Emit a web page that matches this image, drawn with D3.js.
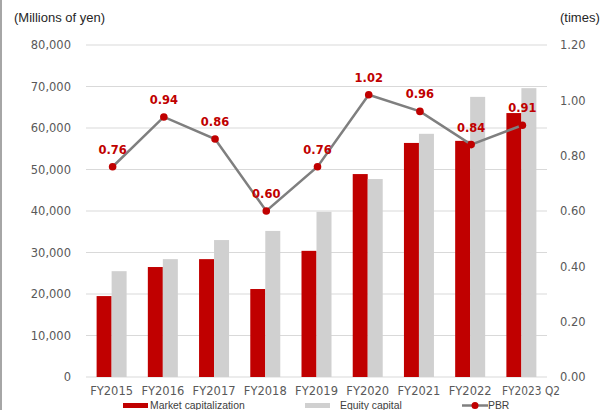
<!DOCTYPE html>
<html><head><meta charset="utf-8">
<script src="https://cdn.jsdelivr.net/npm/d3@7"></script>
<style>
html,body{margin:0;padding:0;background:#fff;}
svg{display:block;}
</style></head>
<body><svg id="c" width="601" height="410"></svg>
<script>
const categories = ["FY2015","FY2016","FY2017","FY2018","FY2019","FY2020","FY2021","FY2022","FY2023 Q2"];
const marketCap = [19500, 26500, 28400, 21200, 30400, 48900, 56400, 56900, 63600];
const equityCap = [25500, 28400, 33000, 35200, 39800, 47700, 58600, 67500, 69600];
const pbr = [0.76, 0.94, 0.86, 0.60, 0.76, 1.02, 0.96, 0.84, 0.91];
const leftTicks = [0,10000,20000,30000,40000,50000,60000,70000,80000];
const rightTicks = [0,0.2,0.4,0.6,0.8,1.0,1.2];

const svg = d3.select("#c");
const L = 86, R = 547, T = 45, B = 377;
const x = d3.scaleBand().domain(categories).range([L, R]);
const yL = d3.scaleLinear().domain([0, 80000]).range([B, T]);
const yR = d3.scaleLinear().domain([0, 1.2]).range([B, T]);
const fmt = d3.format(",");

// left border
svg.append("rect").attr("x",0).attr("y",0).attr("width",2).attr("height",410).attr("fill","#a6a6a6");

// gridlines
svg.append("g").selectAll("line").data(leftTicks).join("line")
  .attr("x1", L).attr("x2", R)
  .attr("y1", d => yL(d)).attr("y2", d => yL(d))
  .attr("stroke", "#d9d9d9").attr("stroke-width", 1);

// left axis
const gl = svg.append("g").attr("transform", `translate(${L},0)`)
  .call(d3.axisLeft(yL).tickValues(leftTicks).tickFormat(fmt).tickSize(0).tickPadding(15));
gl.select(".domain").remove();
gl.selectAll("text").attr("fill","#595959").style("font-family","DejaVu Sans").style("font-size","11.5px");

// right axis
const gr = svg.append("g").attr("transform", `translate(${R},0)`)
  .call(d3.axisRight(yR).tickValues(rightTicks).tickFormat(d3.format(".2f")).tickSize(0).tickPadding(13));
gr.select(".domain").remove();
gr.selectAll("text").attr("fill","#595959").style("font-family","DejaVu Sans").style("font-size","11.5px");

// x axis
const gx = svg.append("g").attr("transform", `translate(0,${B})`)
  .call(d3.axisBottom(x).tickSize(0).tickPadding(10));
gx.select(".domain").remove();
gx.selectAll("text").attr("fill","#595959").style("font-family","DejaVu Sans").style("font-size","11.5px");
gx.selectAll("text").filter(d => d === categories[categories.length-1])
  .attr("text-anchor","start")
  .attr("x", 502 - x(categories[categories.length-1]) - x.bandwidth()/2)
  .attr("textLength", 58).attr("lengthAdjust","spacingAndGlyphs");

// bars
const bw = 15;
svg.append("g").selectAll("rect").data(categories).join("rect")
  .attr("x", d => x(d) + x.bandwidth()/2 - bw)
  .attr("y", (d,i) => yL(marketCap[i]))
  .attr("width", bw)
  .attr("height", (d,i) => B - yL(marketCap[i]))
  .attr("fill", "#c00000");
svg.append("g").selectAll("rect").data(categories).join("rect")
  .attr("x", d => x(d) + x.bandwidth()/2)
  .attr("y", (d,i) => yL(equityCap[i]))
  .attr("width", bw)
  .attr("height", (d,i) => B - yL(equityCap[i]))
  .attr("fill", "#d0d0d0");

// PBR line
const cx = (d) => x(d) + x.bandwidth()/2 + 1;
const line = d3.line().x((d,i) => cx(categories[i])).y(d => yR(d));
svg.append("path").datum(pbr).attr("d", line)
  .attr("fill","none").attr("stroke","#7f7f7f").attr("stroke-width",2.5);
svg.append("g").selectAll("circle").data(pbr).join("circle")
  .attr("cx", (d,i) => cx(categories[i])).attr("cy", d => yR(d)).attr("r", 3.8)
  .attr("fill","#c00000");
svg.append("g").selectAll("text").data(pbr).join("text")
  .attr("x", (d,i) => cx(categories[i])).attr("y", d => yR(d) - 13)
  .attr("text-anchor","middle")
  .attr("fill","#c00000").style("font-family","DejaVu Sans").style("font-weight","bold").style("font-size","11.5px")
  .text(d => d.toFixed(2));

// axis titles
svg.append("text").attr("x",14).attr("y",22).text("(Millions of yen)")
  .attr("fill","#262626").style("font-family","Liberation Sans, Arial").style("font-size","13px");
svg.append("text").attr("x",560).attr("y",22).text("(times)")
  .attr("fill","#262626").style("font-family","Liberation Sans, Arial").style("font-size","13px");

// legend
const lg = svg.append("g").style("font-family","Liberation Sans, Arial").style("font-size","10.4px").attr("fill","#404040");
lg.append("rect").attr("x",123).attr("y",403).attr("width",25).attr("height",5).attr("fill","#c00000");
lg.append("text").attr("x",150).attr("y",409).text("Market capitalization");
lg.append("rect").attr("x",305).attr("y",403).attr("width",25).attr("height",5).attr("fill","#d0d0d0");
lg.append("text").attr("x",340).attr("y",409).text("Equity capital");
lg.append("line").attr("x1",462).attr("x2",488).attr("y1",405.5).attr("y2",405.5).attr("stroke","#7f7f7f").attr("stroke-width",2.5);
lg.append("circle").attr("cx",475).attr("cy",405.5).attr("r",3.5).attr("fill","#c00000");
lg.append("text").attr("x",488).attr("y",409).text("PBR");
</script>
</body></html>
